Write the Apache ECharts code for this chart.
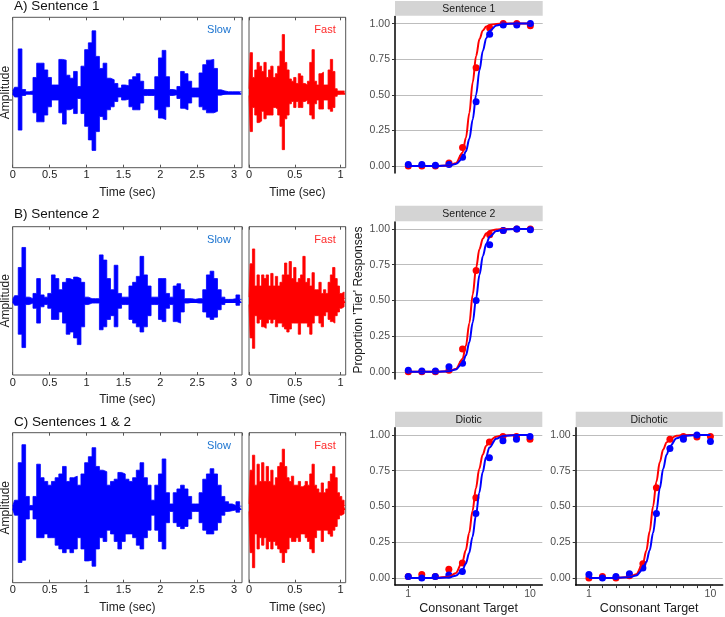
<!DOCTYPE html>
<html>
<head>
<meta charset="utf-8">
<title>Slow / fast sentences and consonant identification</title>
<script src="https://cdn.jsdelivr.net/npm/echarts@6.0.0/dist/echarts.min.js"></script>
<style>
  html, body { margin: 0; padding: 0; background: #fff; }
  #main { width: 725px; height: 617px; }
</style>
</head>
<body>
<div id="main"></div>
<script>
// ---- waveform envelopes, slow: every 0.05 s, fast: every 0.025 s
var slowStep = 0.05, fastStep = 0.025;

var slowUpperA = [0.02,0.07,0.58,0.04,0.01,0.02,0.2,0.39,0.39,0.30, 0.2,0.1,0.1,0.44,0.43,0.23,0.19,0.28,0.08,0.35,
  0.57,0.66,0.82,0.48,0.32,0.39,0.19,0.17,0.12,0.06, 0.10,0.09,0.17,0.21,0.25,0.15,0.04,0.04,0.04,0.21,
  0.46,0.56,0.21,0.04,0.03,0.08,0.28,0.25,0.15,0.06, 0.06,0.26,0.37,0.43,0.44,0.32,0.035,0.02,0.01,0.01, 0.01,0.01,0.01];
var slowLowerA = [-0.02,-0.06,-0.5,-0.04,-0.01,-0.02,-0.27,-0.39,-0.39,-0.30, -0.19,-0.1,-0.1,-0.27,-0.42,-0.23,-0.21,-0.28,-0.08,-0.28,
  -0.45,-0.63,-0.77,-0.52,-0.32,-0.36,-0.23,-0.19,-0.12,-0.06, -0.10,-0.09,-0.19,-0.23,-0.23,-0.14,-0.04,-0.04,-0.04,-0.23,
  -0.34,-0.36,-0.19,-0.04,-0.03,-0.08,-0.21,-0.23,-0.14,-0.06, -0.06,-0.19,-0.23,-0.27,-0.27,-0.25,-0.035,-0.02,-0.01,-0.01, -0.01,-0.01,-0.01];
var fastUpperA = [0.05,0.53,0.2,0.3,0.4,0.35,0.28,0.4,0.2,0.3, 0.35,0.2,0.25,0.35,0.55,0.77,0.4,0.3,0.18,0.15,
  0.2,0.12,0.25,0.22,0.12,0.1,0.15,0.4,0.57,0.15, 0.1,0.25,0.27,0.1,0.1,0.3,0.44,0.28,0.05,0.02, 0.02,0.02,0.01];
var fastLowerA = [-0.04,-0.52,-0.2,-0.3,-0.4,-0.38,-0.25,-0.35,-0.3,-0.3, -0.3,-0.2,-0.22,-0.3,-0.45,-0.76,-0.35,-0.3,-0.15,-0.12,
  -0.2,-0.12,-0.2,-0.2,-0.12,-0.1,-0.15,-0.3,-0.35,-0.15, -0.1,-0.22,-0.22,-0.1,-0.1,-0.22,-0.25,-0.2,-0.05,-0.02, -0.01,-0.01,-0.01];

var slowUpperB = [0.02,0.07,0.45,0.72,0.05,0.03,0.1,0.3,0.08,0.05, 0.1,0.35,0.3,0.15,0.25,0.3,0.28,0.32,0.3,0.25,
  0.05,0.03,0.03,0.03,0.62,0.55,0.3,0.15,0.48,0.1, 0.05,0.05,0.2,0.25,0.33,0.6,0.35,0.2,0.05,0.05,
  0.3,0.3,0.1,0.05,0.2,0.23,0.15,0.03,0.03,0.02, 0.03,0.03,0.15,0.35,0.4,0.3,0.15,0.05,0.02,0.02, 0.03,0.08,0.02];
var slowLowerB = [-0.02,-0.06,-0.45,-0.63,-0.05,-0.03,-0.1,-0.3,-0.08,-0.05, -0.1,-0.25,-0.25,-0.15,-0.3,-0.45,-0.42,-0.5,-0.59,-0.35,
  -0.05,-0.03,-0.03,-0.03,-0.39,-0.35,-0.25,-0.2,-0.35,-0.1, -0.05,-0.05,-0.25,-0.3,-0.35,-0.42,-0.35,-0.2,-0.05,-0.05,
  -0.25,-0.28,-0.1,-0.05,-0.28,-0.3,-0.15,-0.03,-0.02,-0.02, -0.03,-0.03,-0.15,-0.22,-0.25,-0.22,-0.12,-0.05,-0.02,-0.02, -0.02,-0.06,-0.02];
var fastUpperB = [0.05,0.5,0.7,0.2,0.35,0.2,0.35,0.3,0.35,0.2, 0.37,0.2,0.33,0.2,0.25,0.35,0.51,0.35,0.53,0.3,
  0.45,0.25,0.3,0.35,0.6,0.25,0.3,0.2,0.38,0.15, 0.15,0.25,0.1,0.15,0.1,0.25,0.35,0.45,0.3,0.2, 0.1,0.12,0.03];
var fastLowerB = [-0.05,-0.5,-0.64,-0.2,-0.3,-0.25,-0.35,-0.37,-0.3,-0.25, -0.3,-0.25,-0.35,-0.3,-0.3,-0.35,-0.38,-0.42,-0.38,-0.3,
  -0.3,-0.3,-0.45,-0.3,-0.3,-0.3,-0.35,-0.45,-0.3,-0.2, -0.2,-0.3,-0.35,-0.2,-0.15,-0.25,-0.28,-0.3,-0.2,-0.15, -0.1,-0.08,-0.02];

var slowUpperC = [0.02,0.1,0.6,0.84,0.15,0.03,0.15,0.58,0.4,0.35, 0.3,0.35,0.4,0.45,0.55,0.35,0.4,0.42,0.3,0.45,
  0.6,0.68,0.8,0.55,0.5,0.48,0.3,0.35,0.38,0.47, 0.45,0.38,0.35,0.4,0.5,0.6,0.4,0.3,0.1,0.3,
  0.45,0.65,0.2,0.05,0.2,0.25,0.3,0.25,0.15,0.05, 0.05,0.2,0.38,0.45,0.52,0.45,0.3,0.15,0.08,0.05, 0.03,0.08,0.02];
var slowLowerC = [-0.02,-0.1,-0.73,-0.7,-0.15,-0.03,-0.15,-0.4,-0.4,-0.35, -0.4,-0.4,-0.5,-0.55,-0.6,-0.55,-0.6,-0.55,-0.4,-0.55,
  -0.71,-0.7,-0.78,-0.55,-0.4,-0.45,-0.3,-0.35,-0.45,-0.55, -0.45,-0.35,-0.35,-0.4,-0.5,-0.55,-0.4,-0.3,-0.1,-0.3,
  -0.45,-0.55,-0.2,-0.05,-0.2,-0.25,-0.28,-0.25,-0.15,-0.05, -0.05,-0.2,-0.3,-0.35,-0.35,-0.3,-0.2,-0.1,-0.05,-0.04, -0.03,-0.06,-0.02];
var fastUpperC = [0.05,0.5,0.7,0.3,0.58,0.35,0.6,0.35,0.55,0.35, 0.5,0.3,0.4,0.55,0.6,0.78,0.55,0.4,0.35,0.42,
  0.3,0.3,0.35,0.28,0.3,0.35,0.3,0.45,0.58,0.3, 0.25,0.2,0.33,0.2,0.25,0.35,0.45,0.55,0.4,0.2, 0.15,0.1,0.03];
var fastLowerC = [-0.05,-0.6,-0.8,-0.35,-0.55,-0.4,-0.5,-0.4,-0.55,-0.45, -0.55,-0.45,-0.5,-0.55,-0.6,-0.73,-0.6,-0.55,-0.4,-0.45,
  -0.45,-0.4,-0.45,-0.35,-0.35,-0.4,-0.45,-0.55,-0.6,-0.4, -0.3,-0.3,-0.45,-0.3,-0.3,-0.35,-0.38,-0.3,-0.25,-0.15, -0.1,-0.08,-0.02];

var slowTicks = ['0', '0.5', '1', '1.5', '2', '2.5', '3'];
var fastTicks = ['0', '0.5', '1'];

// ---- identification data: 10 log-spaced steps from 1 to 10 (index 0..9)
var stimIdx = [0, 1, 2, 3, 4, 5, 6, 7, 8, 9];
var stimLabelIdx = [0, 9];
var stimLabels = ['1', '10'];
var propTicks = [0, 0.25, 0.5, 0.75, 1];

var fastS1 = [0.0, 0.0, 0.0, 0.02, 0.13, 0.69, 0.97, 1.0, 1.0, 0.985];
var slowS1 = [0.01, 0.01, 0.005, 0.01, 0.06, 0.45, 0.925, 0.99, 0.99, 1.0];
var fastS2 = [0.0, 0.0, 0.0, 0.01, 0.16, 0.71, 0.96, 0.99, 1.0, 1.0];
var slowS2 = [0.01, 0.005, 0.005, 0.035, 0.06, 0.50, 0.89, 0.99, 1.0, 0.995];
var fastDiotic = [0.01, 0.025, 0.01, 0.06, 0.105, 0.56, 0.95, 0.99, 0.99, 0.97];
var slowDiotic = [0.01, 0.0, 0.01, 0.02, 0.045, 0.45, 0.84, 0.96, 0.97, 0.99];
var fastDichotic = [0.0, 0.01, 0.0, 0.015, 0.10, 0.63, 0.97, 0.99, 0.985, 0.99];
var slowDichotic = [0.025, 0.0, 0.01, 0.03, 0.07, 0.45, 0.905, 0.97, 1.0, 0.955];

// fitted curves, read at these stimulus positions
var fitIdx = [0, 2, 3, 3.5, 4, 4.25, 4.5, 4.75, 5, 5.25, 5.5, 5.75, 6, 6.5, 7, 8, 9];
var fastFitS1 = [0,0,0.003,0.018,0.093,0.198,0.372,0.587,0.773,0.891,0.952,0.979,0.991,0.998,1,1,1];
var slowFitS1 = [0,0,0.003,0.013,0.052,0.102,0.19,0.326,0.5,0.674,0.81,0.898,0.948,0.987,0.997,1,1];
var fastFitS2 = [0,0,0.004,0.019,0.09,0.184,0.34,0.541,0.729,0.86,0.933,0.97,0.986,0.997,1,1,1];
var slowFitS2 = [0,0,0.004,0.016,0.061,0.115,0.207,0.345,0.514,0.68,0.811,0.897,0.946,0.986,0.997,1,1];
var fastFitDiotic = [0,0,0.009,0.033,0.111,0.193,0.314,0.468,0.627,0.763,0.861,0.922,0.958,0.988,0.997,1,1];
var slowFitDiotic = [0,0,0.004,0.015,0.054,0.099,0.174,0.287,0.435,0.596,0.739,0.844,0.912,0.974,0.993,0.999,1];
var fastFitDichotic = [0,0,0.006,0.026,0.102,0.19,0.326,0.5,0.674,0.81,0.898,0.948,0.974,0.994,0.998,1,1];
var slowFitDichotic = [0,0,0.005,0.017,0.061,0.111,0.193,0.314,0.468,0.627,0.763,0.861,0.922,0.977,0.994,0.999,1];

var BLUE = '#0000ff', RED = '#ff0000';
var FONT = 'Liberation Sans, Arial, sans-serif';

var grids = [], xAxes = [], yAxes = [], series = [], graphics = [];

function addWave(box, upper, lower, step, xmax, ticks, color) {
  var g = grids.length;
  grids.push({left: box[0], top: box[1], width: box[2], height: box[3], show: true,
    borderColor: '#555', borderWidth: 1, backgroundColor: '#fff'});
  var xi = xAxes.length;
  var base = {gridIndex: g, type: 'value', min: 0, max: xmax, interval: 0.5,
    axisLine: {show: false, onZero: false}, splitLine: {show: false},
    axisTick: {inside: true, length: 3, lineStyle: {color: '#555'}}};
  xAxes.push(Object.assign({}, base, {position: 'bottom',
    axisLabel: {margin: 2, fontSize: 11, color: '#222', fontFamily: FONT, showMaxLabel: false,
      formatter: function (v) {
        var k = Math.round(v / 0.5);
        return Math.abs(v - k * 0.5) < 1e-6 ? ticks[k] : '';
      }},
    name: 'Time (sec)', nameLocation: 'middle', nameGap: 19,
    nameTextStyle: {fontSize: 12, color: '#222', fontFamily: FONT}}));
  xAxes.push(Object.assign({}, base, {position: 'top', axisLabel: {show: false}}));
  var yi = yAxes.length;
  yAxes.push({gridIndex: g, type: 'value', min: -1, max: 1, show: false});
  // upper envelope filled down a hair past zero so it meets the lower fill without a seam
  [[upper, -0.03], [lower, 0]].forEach(function (p) {
    series.push({type: 'line', xAxisIndex: xi, yAxisIndex: yi, symbol: 'none', silent: true, step: 'middle',
      data: p[0].map(function (v, i) { return [i * step, v]; }),
      lineStyle: {color: color, width: 0.8}, areaStyle: {color: color, opacity: 1, origin: p[1]}});
  });
}

function addPsych(box, fast, slow, fastFit, slowFit, showX) {
  var g = grids.length;
  grids.push({left: box[0], top: box[1], width: box[2], height: box[3]});
  var xi = xAxes.length, yi = yAxes.length;
  xAxes.push({gridIndex: g, type: 'value', min: -0.98, max: 9.91,
    axisLine: {show: showX, onZero: false, lineStyle: {color: '#000', width: 1.5}},
    axisTick: {show: showX, customValues: stimIdx, length: 3, lineStyle: {color: '#333'}},
    axisLabel: {show: showX, customValues: stimLabelIdx, margin: 4, fontSize: 10.5, color: '#4d4d4d', fontFamily: FONT,
      formatter: function (v) { return stimLabels[stimLabelIdx.indexOf(v)]; }},
    splitLine: {show: false},
    name: showX ? 'Consonant Target' : '', nameLocation: 'middle', nameGap: 17,
    nameTextStyle: {fontSize: 12.5, color: '#1a1a1a', fontFamily: FONT}});
  yAxes.push({gridIndex: g, type: 'value', min: -0.05, max: 1.05,
    axisLine: {show: true, onZero: false, lineStyle: {color: '#000', width: 1.5}},
    axisTick: {show: true, customValues: propTicks, length: 3, lineStyle: {color: '#333'}},
    axisLabel: {customValues: propTicks, margin: 5, fontSize: 10.5, color: '#4d4d4d', fontFamily: FONT,
      formatter: function (v) { return v.toFixed(2); }},
    splitLine: {show: true, lineStyle: {color: '#bdbdbd', width: 1}}});
  [[fastFit, RED], [slowFit, BLUE]].forEach(function (p) {
    series.push({type: 'line', xAxisIndex: xi, yAxisIndex: yi, symbol: 'none', smooth: 0.35,
      smoothMonotone: 'x', silent: true,
      data: p[0].map(function (v, i) { return [fitIdx[i], v]; }),
      lineStyle: {color: p[1], width: 2}});
  });
  [[fast, RED], [slow, BLUE]].forEach(function (p) {
    series.push({type: 'scatter', xAxisIndex: xi, yAxisIndex: yi, symbolSize: 7, silent: true,
      data: p[0].map(function (v, i) { return [stimIdx[i], v]; }),
      itemStyle: {color: p[1], opacity: 1}});
  });
}

function text(x, y, str, size, color, align, rotate) {
  graphics.push({type: 'text', x: x, y: y, silent: true, rotation: rotate ? Math.PI / 2 : 0,
    style: {text: str, fill: color, font: size + 'px ' + FONT, align: align || 'left', verticalAlign: 'middle'}});
}
function strip(x, y, w, h, label) {
  graphics.push({type: 'rect', shape: {x: x, y: y, width: w, height: h}, style: {fill: '#d4d4d4'}, silent: true});
  text(x + w / 2, y + h / 2 + 0.5, label, 10.5, '#1a1a1a', 'center');
}

// waveform rows
var rows = [
  {top: 17.3, h: 150.4, title: 'A) Sentence 1', ty: 6, d: [slowUpperA, slowLowerA, fastUpperA, fastLowerA]},
  {top: 226.7, h: 148.3, title: 'B) Sentence 2', ty: 214.3, d: [slowUpperB, slowLowerB, fastUpperB, fastLowerB]},
  {top: 432.7, h: 150, title: 'C) Sentences 1 & 2', ty: 422.3, d: [slowUpperC, slowLowerC, fastUpperC, fastLowerC]}
];
rows.forEach(function (r) {
  addWave([12.7, r.top, 229.3, r.h], r.d[0], r.d[1], slowStep, 3.107, slowTicks, BLUE);
  addWave([249, r.top, 96.7, r.h], r.d[2], r.d[3], fastStep, 1.055, fastTicks, RED);
  text(14, r.ty, r.title, 13.5, '#111');
  text(219, r.top + 13, 'Slow', 11, '#1a73d0', 'center');
  text(325, r.top + 13, 'Fast', 11, '#ff2a2a', 'center');
  text(6, r.top + r.h / 2, 'Amplitude', 12, '#222', 'center', true);
});

// identification panels
addPsych([395, 16.5, 147.7, 156.5], fastS1, slowS1, fastFitS1, slowFitS1, false);
addPsych([395, 221.9, 147.7, 157], fastS2, slowS2, fastFitS2, slowFitS2, false);
addPsych([395, 427.8, 147.3, 157.3], fastDiotic, slowDiotic, fastFitDiotic, slowFitDiotic, true);
addPsych([575.7, 427.8, 147, 157.3], fastDichotic, slowDichotic, fastFitDichotic, slowFitDichotic, true);
strip(395, 1, 147.7, 14.7, 'Sentence 1');
strip(395, 205.7, 147.7, 15.5, 'Sentence 2');
strip(395, 411.7, 147.3, 15.3, 'Diotic');
strip(575.7, 411.7, 147, 15.3, 'Dichotic');
text(358.5, 300, "Proportion 'Tier' Responses", 12, '#1a1a1a', 'center', true);

var chart = echarts.init(document.getElementById('main'), null, {renderer: 'canvas'});
chart.setOption({
  animation: false,
  backgroundColor: '#fff',
  grid: grids,
  xAxis: xAxes,
  yAxis: yAxes,
  series: series,
  graphic: graphics
});
</script>
</body>
</html>
